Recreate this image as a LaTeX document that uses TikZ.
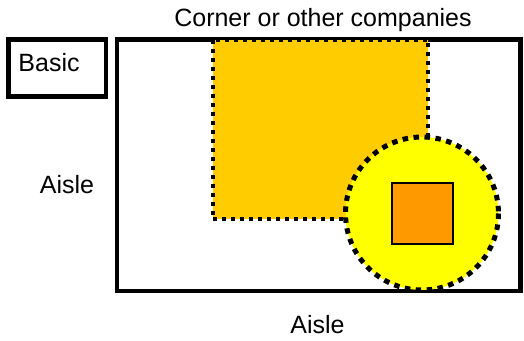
\documentclass[tikz,border=0pt]{standalone}
\usepackage{fontspec}
\setmainfont{Liberation Sans}
\definecolor{gold}{HTML}{FFCC00}
\definecolor{yel}{HTML}{FFFF00}
\definecolor{org}{HTML}{FF9900}
\begin{document}
\begin{tikzpicture}[x=1pt,y=-1pt,
  lbl/.style={inner sep=0pt,anchor=base,font=\fontsize{25}{30}\selectfont},
  frame/.style={draw=black,line width=4.3pt,fill=white},
  zone/.style={fill=gold,draw=black,line width=4pt,dash pattern=on 4pt off 5pt},
  spot/.style={fill=yel,draw=black,line width=5pt,dash pattern=on 5.5pt off 5.5pt},
  booth/.style={fill=org,draw=black,line width=1.2pt}]
\useasboundingbox (0,0) rectangle (524,340);
\draw[frame] (8.5,39.5) rectangle (106,96.5);
\draw[frame] (117,39.5) rectangle (520.5,291);
\draw[zone] (212.5,39.5) rectangle (428,219);
\draw[spot] (422,213.5) circle[radius=76.5];
\draw[booth] (392,183) rectangle (453,244);
\node[lbl] (corner) at (323,27) {Corner or other companies};
\node[lbl] (basic) at (49,71) {Basic};
\node[lbl] (aisleL) at (67,193) {Aisle};
\node[lbl] (aisleB) at (317.5,333) {Aisle};
\end{tikzpicture}
\end{document}
